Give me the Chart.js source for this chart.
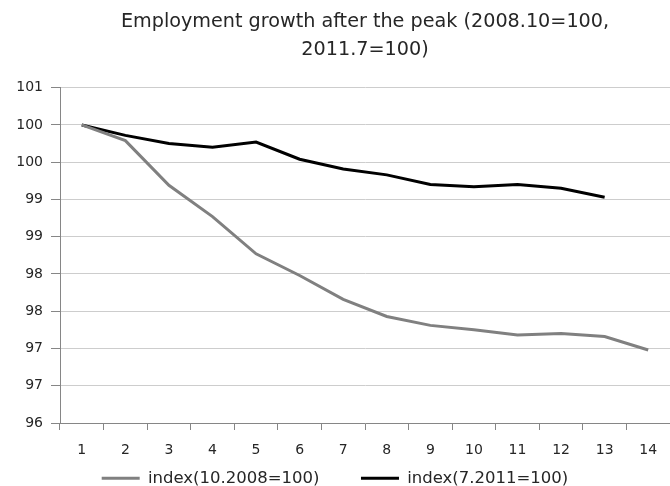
<!DOCTYPE html>
<html>
<head>
<meta charset="utf-8">
<title>Employment growth after the peak</title>
<script src="https://cdn.jsdelivr.net/npm/chart.js@4.4.1/dist/chart.umd.min.js"></script>
<style>
  html, body { margin: 0; padding: 0; background: #fff; }
  canvas { display: block; }
</style>
</head>
<body>
<canvas id="empChart" width="670" height="486"></canvas>
<script>
// months after the peak
const categories = ['1', '2', '3', '4', '5', '6', '7', '8', '9', '10', '11', '12', '13', '14'];
// index, 10.2008 = 100
const index2008 = [100, 99.79, 99.19, 98.77, 98.27, 97.98, 97.66, 97.43, 97.31, 97.25, 97.18, 97.20, 97.16, 96.98];
// index, 7.2011 = 100
const index2011 = [100, 99.86, 99.75, 99.70, 99.77, 99.54, 99.41, 99.33, 99.20, 99.17, 99.20, 99.15, 99.03];
// axis labels are shown rounded to whole numbers (96 .. 100.5 in steps of 0.5)
const yTickLabels = ['96', '97', '97', '98', '98', '99', '99', '100', '100', '101'];

const FONT = "'DejaVu Sans', sans-serif";
const axisColor = '#868686';

Chart.defaults.font.family = FONT;
Chart.defaults.color = '#262626';

const ctx = document.getElementById('empChart').getContext('2d');

new Chart(ctx, {
  type: 'line',
  data: {
    labels: categories,
    datasets: [{
      label: 'index(10.2008=100)',
      data: index2008,
      borderColor: '#808080',
      backgroundColor: '#808080',
      borderWidth: 3,
      pointRadius: 0,
      tension: 0
    }, {
      label: 'index(7.2011=100)',
      data: index2011,
      borderColor: '#000000',
      backgroundColor: '#000000',
      borderWidth: 3,
      pointRadius: 0,
      tension: 0
    }]
  },
  options: {
    responsive: false,
    animation: false,
    layout: { padding: { left: 0, right: 0, top: 0, bottom: -10.5 } },
    plugins: {
      title: {
        display: true,
        fullSize: false,
        text: ['Employment growth after the peak (2008.10=100,', '2011.7=100)'],
        font: { size: 19.2, weight: 'normal', lineHeight: 1.45 },
        color: '#262626',
        padding: { top: 8, bottom: 24 }
      },
      legend: {
        position: 'bottom',
        labels: {
          boxWidth: 38,
          boxHeight: 3,
          padding: 10,
          font: { size: 16.5 },
          // solid line swatches, with a wider gap after the first entry
          generateLabels: chart =>
            Chart.defaults.plugins.legend.labels.generateLabels(chart).map((item, i) => ({
              ...item,
              text: i === 0 ? item.text + '      ' : item.text,
              fillStyle: item.strokeStyle,
              lineWidth: 0
            }))
        }
      },
      tooltip: { enabled: false }
    },
    scales: {
      x: {
        type: 'category',
        offset: true,
        afterFit: scale => { scale.height = 37; },
        grid: {
          offset: true,
          drawOnChartArea: false,
          drawTicks: true,
          tickLength: 7,
          tickColor: axisColor
        },
        border: { display: true, color: axisColor },
        ticks: {
          autoSkip: false,
          maxRotation: 0,
          padding: 12,
          font: { size: 14 }
        }
      },
      y: {
        min: 96,
        max: 100.5,
        afterFit: scale => { scale.width = 60; },
        grid: {
          color: '#cdcdcd',
          tickColor: axisColor,
          tickLength: 9
        },
        border: { display: true, color: axisColor },
        ticks: {
          stepSize: 0.5,
          padding: 8,
          font: { size: 14 },
          callback: (value, i) => yTickLabels[i]
        }
      }
    }
  }
});
</script>
</body>
</html>
